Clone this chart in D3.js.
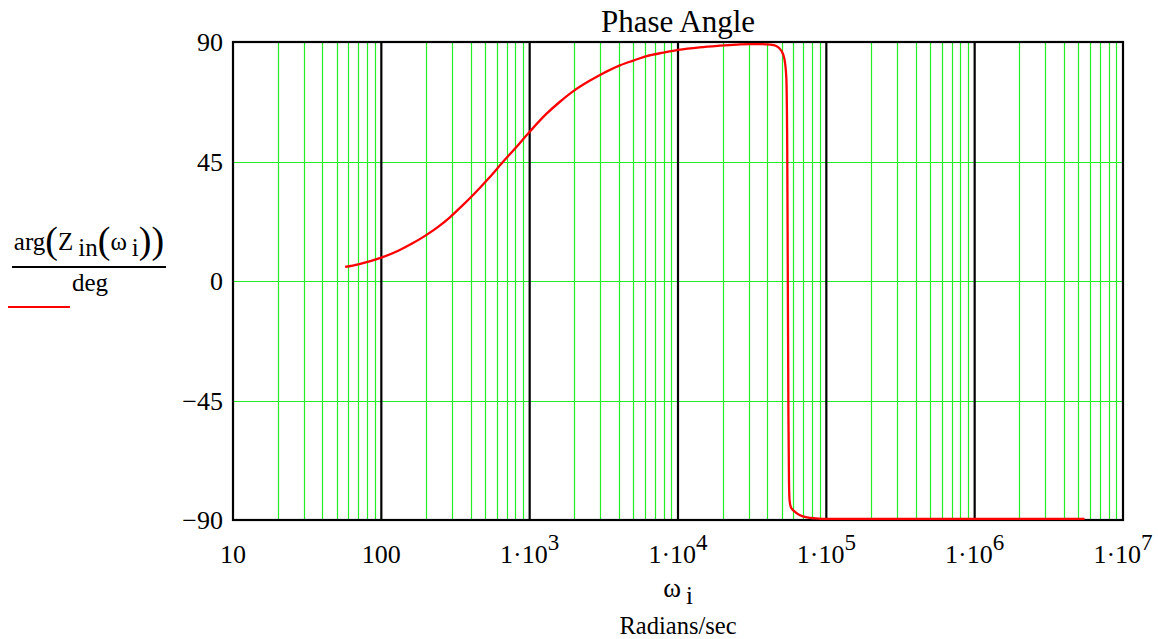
<!DOCTYPE html>
<html>
<head>
<meta charset="utf-8">
<script src="https://cdn.jsdelivr.net/npm/d3@7"></script>
<style>
html,body{margin:0;padding:0;background:#fff;}
svg{display:block;}
text{font-family:"Liberation Serif","Times New Roman",serif;fill:#000;}
</style>
</head>
<body>
<svg id="chart" width="1158" height="639"></svg>
<script>
// ---- data ----
const omega = [57, 70, 100, 130, 160, 197, 240, 290, 350, 417, 526, 664, 800, 1000, 1300, 1600, 1970, 2500, 2980, 4060, 5000, 6150, 8000, 10000, 14000, 19200, 25000, 30000, 36000, 42000, 46000, 50000, 52000, 53700, 54500, 55000, 55500, 56000, 56500, 58000, 61500, 67000, 73800, 85000, 100000, 300000, 1000000, 3000000, 5500000];
const phaseDeg = [5.3, 6.3, 8.8, 11.4, 14.0, 17.0, 20.3, 24.0, 28.3, 32.5, 38.5, 45, 50, 56.2, 63.0, 67.5, 71.5, 75.2, 77.6, 81.2, 83, 84.7, 86, 87, 88, 88.6, 89, 89.2, 89.2, 89, 88.5, 86.5, 84, 77, 50, 0, -50, -75, -82.5, -85.5, -86.9, -88.3, -89.0, -89.4, -89.6, -89.6, -89.6, -89.6, -89.6];
const xDecades = [10, 100, 1e3, 1e4, 1e5, 1e6, 1e7];
const xTickBase = ["10", "100", "1·10", "1·10", "1·10", "1·10", "1·10"];
const xTickExp = ["", "", "3", "4", "5", "6", "7"];
const yTicks = [90, 45, 0, -45, -90];
const yTickLabels = ["90", "45", "0", "\u221245", "\u221290"];
const titleText = "Phase Angle";
const unitsText = "Radians/sec";

// ---- layout ----
const svg = d3.select("#chart");
const L = 233, R = 1123, T = 42, B = 520;
const x = d3.scaleLog().domain([10, 1e7]).range([L, R]);
const y = d3.scaleLinear().domain([-90, 90]).range([B, T]);
const snap = v => Math.round(v) + 0.5;

const green = "#22ee22";

// minor vertical grid
const minor = [];
for (let d = 0; d < xDecades.length - 1; d++) {
  for (let k = 2; k <= 9; k++) minor.push(xDecades[d] * k);
}
svg.append("g").selectAll("line").data(minor).join("line")
  .attr("x1", d => snap(x(d))).attr("x2", d => snap(x(d)))
  .attr("y1", T).attr("y2", B)
  .attr("stroke", green).attr("stroke-width", 1.2);

// horizontal grid
svg.append("g").selectAll("line").data(yTicks.filter(v => v !== 90 && v !== -90)).join("line")
  .attr("x1", L).attr("x2", R)
  .attr("y1", d => snap(y(d))).attr("y2", d => snap(y(d)))
  .attr("stroke", green).attr("stroke-width", 1.2);

// decade lines
svg.append("g").selectAll("line").data(xDecades.slice(1, -1)).join("line")
  .attr("x1", d => x(d)).attr("x2", d => x(d))
  .attr("y1", T).attr("y2", B)
  .attr("stroke", "#000").attr("stroke-width", 2.2);

// frame
svg.append("rect").attr("x", L).attr("y", T).attr("width", R - L).attr("height", B - T)
  .attr("fill", "none").attr("stroke", "#000").attr("stroke-width", 2.2);

// curve
const line = d3.line().x((d, i) => x(omega[i])).y((d, i) => y(phaseDeg[i])).curve(d3.curveMonotoneX);
svg.append("path").datum(phaseDeg).attr("d", line)
  .attr("fill", "none").attr("stroke", "#ff0000").attr("stroke-width", 2.3)
  .attr("stroke-linejoin", "round");

// y tick labels
svg.append("g").selectAll("text").data(yTicks).join("text")
  .attr("x", 223).attr("y", d => y(d)).attr("dy", "0.36em")
  .attr("text-anchor", "end").attr("font-size", 26)
  .text((d, i) => yTickLabels[i]);

// x tick labels
const xt = svg.append("g").selectAll("text").data(xDecades).join("text")
  .attr("x", d => x(d)).attr("y", 563)
  .attr("text-anchor", "middle").attr("font-size", 26);
xt.append("tspan").text((d, i) => xTickBase[i]);
xt.append("tspan").attr("dy", -13).attr("font-size", 23).text((d, i) => xTickExp[i]);

// title
svg.append("text").attr("x", (L + R) / 2).attr("y", 32).attr("text-anchor", "middle")
  .attr("font-size", 31).text(titleText);

// x axis label ω_i
const xl = svg.append("text").attr("x", (L + R) / 2).attr("y", 597).attr("text-anchor", "middle")
  .attr("font-size", 27);
xl.append("tspan").text("ω");
xl.append("tspan").attr("dy", 7).attr("font-size", 25).text("\u2009i");

svg.append("text").attr("x", (L + R) / 2).attr("y", 634).attr("text-anchor", "middle")
  .attr("font-size", 24.5).text(unitsText);

// y axis label: fraction
const num = svg.append("text").attr("x", 89).attr("y", 250).attr("text-anchor", "middle").attr("font-size", 25);
num.append("tspan").text("arg");
num.append("tspan").attr("font-size", 38).attr("dy", 3).text("(");
num.append("tspan").attr("dy", -3).text("Z");
num.append("tspan").attr("dy", 6).text("\u2009in");
num.append("tspan").attr("font-size", 38).attr("dy", -3).text("(");
num.append("tspan").attr("dy", -3).text("ω");
num.append("tspan").attr("dy", 6).text("\u2009i");
num.append("tspan").attr("font-size", 38).attr("dy", -3).text("))");

svg.append("line").attr("x1", 12).attr("x2", 166).attr("y1", 267).attr("y2", 267)
  .attr("stroke", "#000").attr("stroke-width", 2);
svg.append("text").attr("x", 90).attr("y", 291).attr("text-anchor", "middle").attr("font-size", 25).text("deg");

// legend line
svg.append("line").attr("x1", 8).attr("x2", 70).attr("y1", 307).attr("y2", 307)
  .attr("stroke", "#ff0000").attr("stroke-width", 2);
</script>
</body>
</html>
